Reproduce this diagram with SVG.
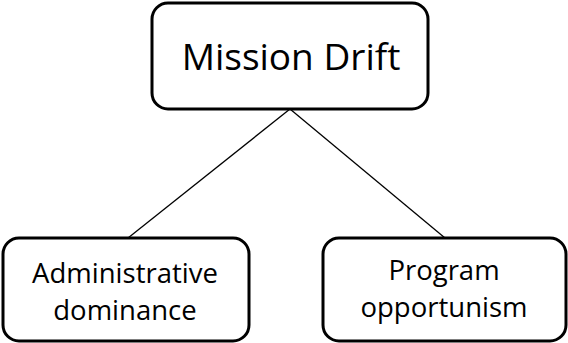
<svg xmlns="http://www.w3.org/2000/svg" width="568" height="343" viewBox="0 0 568 343">
  <style>
    .box { fill: #ffffff; stroke: #000000; stroke-width: 3; }
    .link { stroke: #000000; stroke-width: 1.3; fill: none; }
    .label { font-family: "Open Sans", "Liberation Sans", sans-serif; fill: #000000; text-anchor: middle; }
    .big { font-size: 37px; }
    .small { font-size: 27.5px; }
  </style>
  <rect width="568" height="343" fill="#ffffff"/>
  <g id="connectors">
    <line class="link" x1="290" y1="109" x2="128" y2="238"/>
    <line class="link" x1="290" y1="109" x2="445" y2="238"/>
  </g>
  <g id="mission-drift">
    <rect class="box" x="152" y="3" width="276" height="106" rx="16"/>
    <text class="label big" x="291" y="70">Mission Drift</text>
  </g>
  <g id="administrative-dominance">
    <rect class="box" x="3" y="238" width="246" height="103" rx="16"/>
    <text class="label small" x="125" y="283">Administrative</text>
    <text class="label small" x="125" y="320">dominance</text>
  </g>
  <g id="program-opportunism">
    <rect class="box" x="323" y="238" width="243" height="103" rx="16"/>
    <text class="label small" x="444" y="280">Program</text>
    <text class="label small" x="444" y="317">opportunism</text>
  </g>
</svg>
